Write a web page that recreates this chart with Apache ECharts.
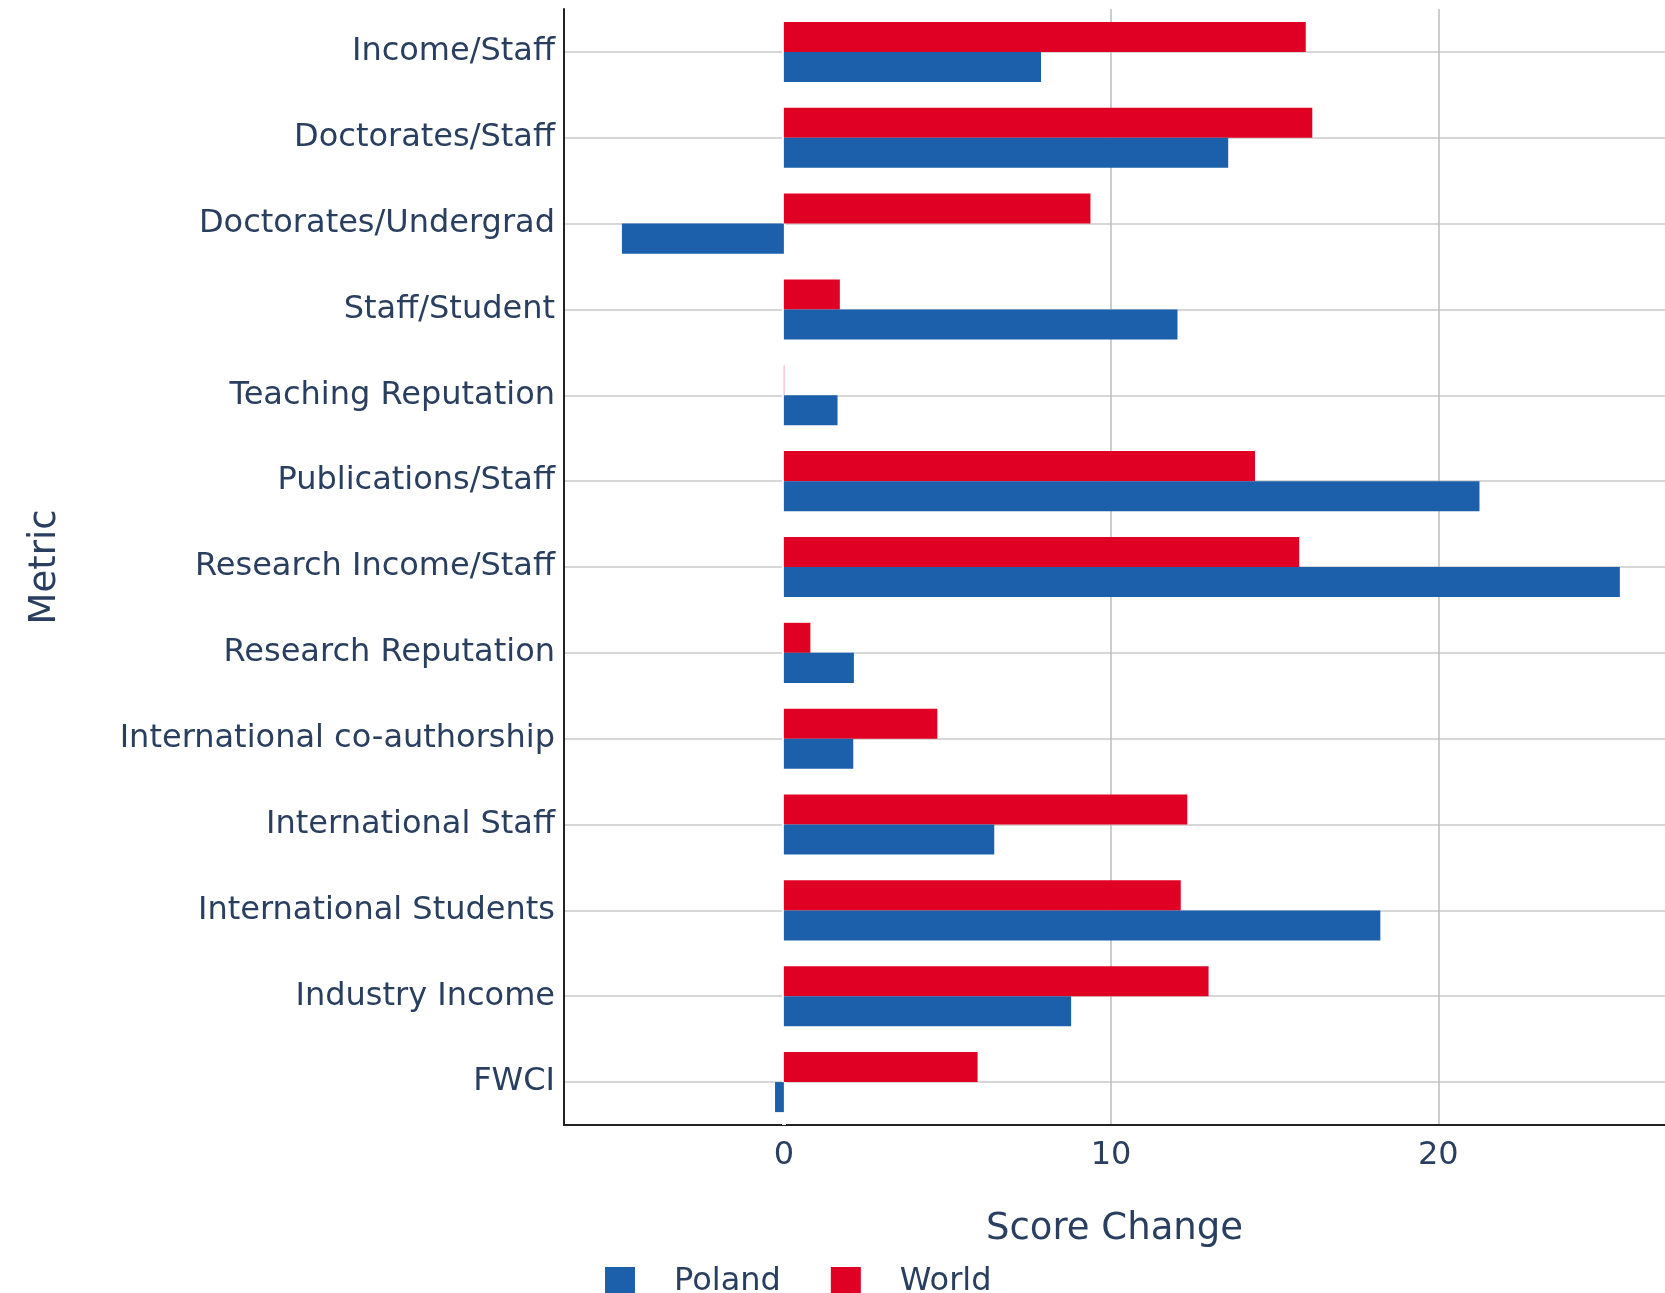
<!DOCTYPE html>
<html>
<head>
<meta charset="utf-8">
<script src="https://cdn.jsdelivr.net/npm/echarts@6/dist/echarts.min.js"></script>
<style>html,body{margin:0;padding:0;background:#fff}#c{width:1665px;height:1293px}</style>
</head>
<body>
<div id="c"></div>
<script>
const categories = ['Income/Staff','Doctorates/Staff','Doctorates/Undergrad','Staff/Student','Teaching Reputation','Publications/Staff','Research Income/Staff','Research Reputation','International co-authorship','International Staff','International Students','Industry Income','FWCI'];
const poland = [7.86, 13.58, -4.95, 12.03, 1.64, 21.26, 25.55, 2.14, 2.12, 6.43, 18.23, 8.78, -0.27];
const world = [15.95, 16.15, 9.37, 1.71, 0.01, 14.4, 15.75, 0.81, 4.69, 12.33, 12.13, 12.98, 5.92];
const xTickLabels = [0, 10, 20];
const xGridValues = [10, 20];
const zeroLine = [0];
const rowIndex = categories.map((c, i) => i);

const FONT = 'DejaVu Sans';
const TXT = '#2a3f5f';
const X_MIN = -6.72, X_MAX = 26.93;
const chart = echarts.init(document.getElementById('c'), null, {renderer: 'canvas'});
chart.setOption({
  animation: false,
  textStyle: {fontFamily: FONT},
  legend: {
    data: ['Poland', 'World'],
    left: 600, top: 1261,
    itemWidth: 30, itemHeight: 30, itemGap: 50,
    icon: 'rect',
    textStyle: {fontSize: 32, color: TXT, fontFamily: FONT, padding: [0, 0, 0, 34]}
  },
  grid: {left: 564, right: 0, top: 9, bottom: 168, containLabel: false},
  xAxis: [{
    type: 'value', min: X_MIN, max: X_MAX,
    name: 'Score Change', nameLocation: 'middle', nameGap: 86,
    nameTextStyle: {fontSize: 37, color: TXT, fontFamily: FONT},
    axisLine: {show: true, onZero: false, lineStyle: {color: '#222', width: 2}},
    axisTick: {show: false, customValues: xGridValues},
    axisLabel: {customValues: xTickLabels, fontSize: 32, color: TXT, fontFamily: FONT, margin: 15},
    splitLine: {show: true, lineStyle: {color: '#bdbdbd', width: 1.5}}
  }, {
    type: 'value', min: X_MIN, max: X_MAX, position: 'top', z: 1,
    axisLine: {show: false}, axisLabel: {show: false},
    axisTick: {show: false, customValues: zeroLine},
    splitLine: {show: true, lineStyle: {color: '#ffffff', width: 4}}
  }],
  yAxis: [{
    type: 'category', data: categories, inverse: true,
    name: 'Metric', nameLocation: 'middle', nameGap: 500, nameRotate: 90,
    nameTextStyle: {fontSize: 37, color: TXT, fontFamily: FONT},
    axisLine: {show: true, onZero: false, lineStyle: {color: '#222', width: 2}},
    axisTick: {show: false},
    axisLabel: {fontSize: 32, color: TXT, fontFamily: FONT, margin: 9},
    splitLine: {show: false}
  }, {
    type: 'value', min: -0.5, max: 12.5, inverse: true, position: 'left',
    axisLine: {show: false}, axisLabel: {show: false},
    axisTick: {show: false, customValues: rowIndex},
    splitLine: {show: true, lineStyle: {color: '#cacaca', width: 1.5}}
  }],
  series: [
    {name: 'World', type: 'bar', data: world, xAxisIndex: 0, yAxisIndex: 0, z: 3, itemStyle: {color: '#e00024'}, barGap: '0%', barCategoryGap: '30%'},
    {name: 'Poland', type: 'bar', data: poland, xAxisIndex: 0, yAxisIndex: 0, z: 3, itemStyle: {color: '#1c5fab'}, barGap: '0%', barCategoryGap: '30%'}
  ]
});
</script>
</body>
</html>
